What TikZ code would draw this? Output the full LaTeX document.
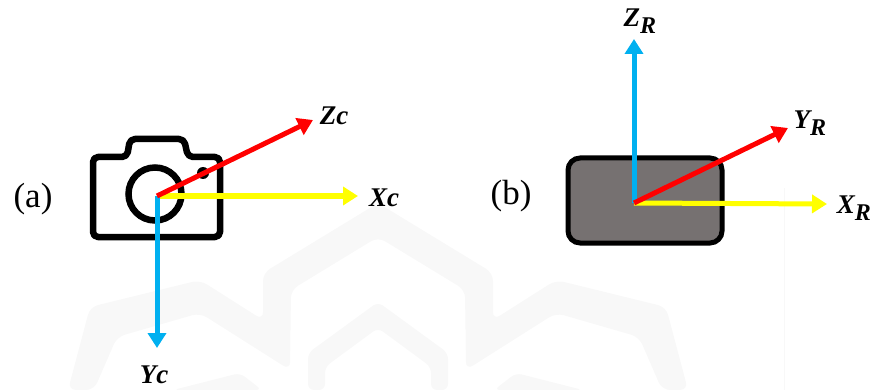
\documentclass[tikz,border=0pt]{standalone}
\usepackage{fontspec}
\setmainfont{Liberation Serif}
\usetikzlibrary{arrows.meta}
\definecolor{axred}{HTML}{FF0000}
\definecolor{axyellow}{HTML}{FFFF00}
\definecolor{axblue}{HTML}{00B0F0}
\definecolor{boxgrey}{HTML}{767171}
\definecolor{wm}{HTML}{F8F8F8}
\tikzset{
  axis/.style={line width=5pt,-{Triangle[length=15pt,width=18pt]}},
  outline/.style={draw=black,line width=6.5pt,line join=round},
  axlabel/.style={font=\fontsize{27}{27}\selectfont\bfseries\itshape,inner sep=0pt},
  sublabel/.style={font=\fontsize{35}{35}\selectfont,inner sep=0pt},
  wmark/.style={fill=wm,draw=none}
}
\newcommand{\subR}{\textsubscript{\fontsize{24}{24}\selectfont R}}
\begin{document}
\begin{tikzpicture}[x=1pt,y=-1pt]
\useasboundingbox (0,0) rectangle (872,390);
% watermark
\fill[wmark,rounded corners=8pt] (68,390) -- (90,307) -- (200,280) -- (263,320) -- (263,273) -- (378,203) -- (493,273) -- (493,320) -- (556,280) -- (666,307) -- (688,390) -- (662,390) -- (639,337) -- (556,313) -- (466,370) -- (465,290) -- (378,237) -- (291,290) -- (290,370) -- (200,313) -- (117,337) -- (94,390) -- cycle;
\fill[wmark,rounded corners=6pt] (308,390) -- (308,353) -- (378,302) -- (448,353) -- (448,390) -- (431,390) -- (431,367) -- (378,328) -- (325,367) -- (325,390) -- cycle;
\fill[wmark,rounded corners=6pt] (173,390) -- (240,373) -- (262,390) -- cycle;
\fill[wmark,rounded corners=6pt] (583,390) -- (516,373) -- (494,390) -- cycle;
\draw[wm,line width=0.8pt] (784,188) -- (784,390);
% camera
\draw[outline,rounded corners=5pt] (93,157) -- (127,157) -- (130,139) -- (184,139) -- (188,157) -- (220,157) -- (220,237) -- (93,237) -- cycle;
\node[circle,draw=black,line width=6.5pt,fill=none,minimum size=53pt,inner sep=0pt] (lens) at (155,194) {};
\node[circle,fill=black,minimum size=12pt,inner sep=0pt] (flash) at (203,173) {};
% robot box
\node[draw=black,fill=boxgrey,line width=5pt,rounded corners=12pt,minimum width=154pt,minimum height=85pt,inner sep=0pt] (robot) at (645,200.5) {};
% frames
\coordinate (oa) at (157,196);
\coordinate (xa) at (358,196);
\coordinate (ya) at (157,348);
\coordinate (za) at (313,120);
\coordinate (ob) at (634,203);
\coordinate (xb) at (827,204);
\coordinate (yb) at (788,128);
\coordinate (zb) at (634,39);
\draw[axis,axyellow] (oa) -- (xa);
\draw[axis,axblue] (oa) -- (ya);
\draw[axis,axred] (oa) -- (za);
\draw[axis,axblue] (ob) -- (zb);
\draw[axis,axyellow] (ob) -- (xb);
\draw[axis,axred] (ob) -- (yb);
% labels
\node[sublabel] (la) at (33,199) {(a)};
\node[sublabel] (lb) at (511,196) {(b)};
\node[axlabel] (tz) at (334,116) {Zc};
\node[axlabel] (tx) at (384,198) {Xc};
\node[axlabel] (ty) at (154,375) {Yc};
\node[axlabel] (tzr) at (640,21) {Z\subR};
\node[axlabel] (tyr) at (810,123) {Y\subR};
\node[axlabel] (txr) at (854,208) {X\subR};
\end{tikzpicture}
\end{document}
